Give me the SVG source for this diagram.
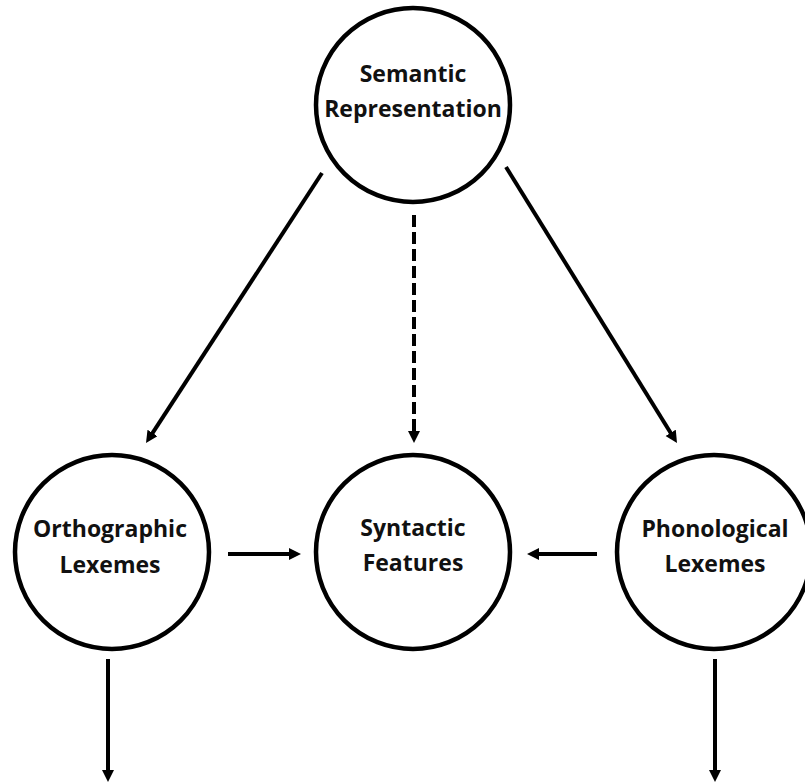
<svg xmlns="http://www.w3.org/2000/svg" width="805" height="782" viewBox="0 0 805 782">
  <style>
    .node { fill: #ffffff; stroke: #000000; stroke-width: 4.5; }
    .label { font-family: "Open Sans", "Noto Sans", "Liberation Sans", sans-serif; font-weight: bold; font-size: 23px; fill: #111111; text-anchor: middle; }
    .link { stroke: #000000; stroke-width: 4; fill: none; marker-end: url(#arrow); }
    .dashed { stroke-dasharray: 12 5; }
  </style>
  <defs>
    <marker id="arrow" markerUnits="userSpaceOnUse" markerWidth="13" markerHeight="13" refX="1" refY="6" orient="auto">
      <path d="M0,0 L12,6 L0,12 Z" fill="#000000"/>
    </marker>
  </defs>
  <rect width="805" height="782" fill="#ffffff"/>

  <g id="connectors">
    <line class="link" x1="322" y1="173" x2="152" y2="433.8"/>
    <line class="link" x1="506" y1="167" x2="671.2" y2="433.7"/>
    <line class="link dashed" x1="414" y1="215" x2="414" y2="432"/>
    <line class="link" x1="228" y1="554" x2="290" y2="554"/>
    <line class="link" x1="597" y1="554" x2="538" y2="554"/>
    <line class="link" x1="108" y1="659" x2="108" y2="771"/>
    <line class="link" x1="715" y1="659" x2="715" y2="771"/>
  </g>

  <g id="semantic">
    <circle class="node" cx="413" cy="105" r="97"/>
    <text class="label" x="413" y="82">Semantic</text>
    <text class="label" x="413" y="117">Representation</text>
  </g>

  <g id="orthographic">
    <circle class="node" cx="112" cy="552" r="97"/>
    <text class="label" x="110" y="537">Orthographic</text>
    <text class="label" x="110" y="573">Lexemes</text>
  </g>

  <g id="syntactic">
    <circle class="node" cx="413" cy="552" r="97"/>
    <text class="label" x="413" y="536">Syntactic</text>
    <text class="label" x="413" y="571">Features</text>
  </g>

  <g id="phonological">
    <circle class="node" cx="714" cy="552" r="97"/>
    <text class="label" x="715" y="537">Phonological</text>
    <text class="label" x="715" y="572">Lexemes</text>
  </g>
</svg>
